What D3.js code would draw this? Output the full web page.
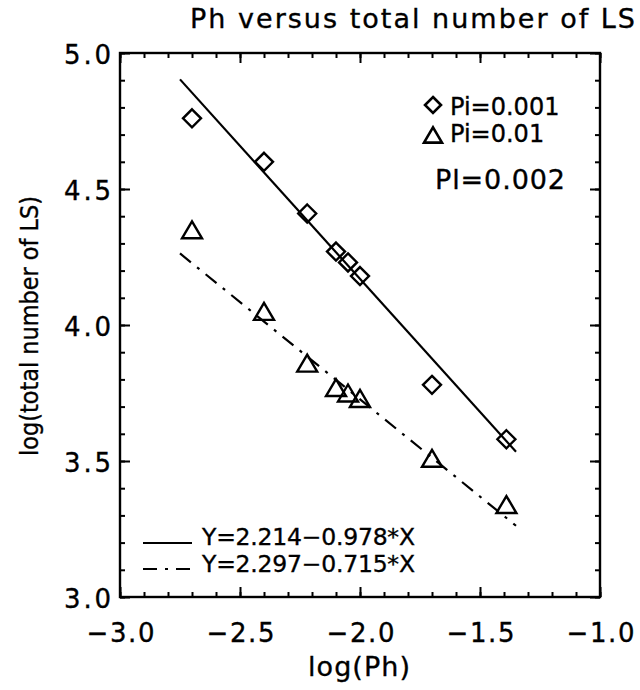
<!DOCTYPE html>
<html>
<head>
<meta charset="utf-8">
<script src="https://cdn.jsdelivr.net/npm/d3@7"></script>
<style>
  html, body { margin: 0; padding: 0; background: #fff; }
  svg { display: block; }
  text { font-family: "DejaVu Sans", sans-serif; fill: #000; stroke: #000; stroke-width: 0.35px; }
</style>
</head>
<body>
<svg id="chart" width="640" height="690"></svg>
<script>
// ---- data ----
const logPh = [-2.70, -2.40, -2.22, -2.10, -2.05, -2.00, -1.70, -1.39];
const lsPi001 = [4.76, 4.60, 4.41, 4.27, 4.23, 4.18, 3.78, 3.58];
const lsPi01  = [4.35, 4.05, 3.86, 3.77, 3.75, 3.73, 3.51, 3.34];
// fit line end points
const fitSolidX = [-2.75, -1.35];
const fitSolidY = [4.903, 3.534];
const fitDashX  = [-2.75, -1.35];
const fitDashY  = [4.263, 3.262];
const xMajor = [-3.0, -2.5, -2.0, -1.5, -1.0];
const yMajor = [3.0, 3.5, 4.0, 4.5, 5.0];
const xMinor = d3.range(-30, -9, 1).map(v => v / 10);
const yMinor = d3.range(30, 51, 1).map(v => v / 10);
const titleText = "Ph versus total number of LS";
const xTitle = "log(Ph)";
const yTitle = "log(total number of LS)";
const legendSymbols = ["Pi=0.001", "Pi=0.01"];
const noteText = "Pl=0.002";
const fitLabels = ["Y=2.214\u22120.978*X", "Y=2.297\u22120.715*X"];

// ---- layout ----
const L = 120, R = 600, T = 53, B = 597;
const svg = d3.select("#chart");
const x = d3.scaleLinear().domain([-3, -1]).range([L, R]);
const y = d3.scaleLinear().domain([3, 5]).range([B, T]);
const fmt = d3.format(".1f");

// title
svg.append("text").attr("x", 190).attr("y", 28)
  .attr("font-size", 27).attr("textLength", 445).attr("lengthAdjust", "spacing")
  .text(titleText);

// axes (ticks inward on all four sides)
function styleAxis(g) {
  g.select(".domain").remove();
  g.selectAll(".tick line").attr("stroke", "#000").attr("stroke-width", 2);
}
// minor ticks
svg.append("g").attr("transform", `translate(0,${B})`)
  .call(d3.axisBottom(x).tickValues(xMinor).tickSize(-5).tickFormat("")).call(styleAxis);
svg.append("g").attr("transform", `translate(0,${T})`)
  .call(d3.axisTop(x).tickValues(xMinor).tickSize(-5).tickFormat("")).call(styleAxis);
svg.append("g").attr("transform", `translate(${L},0)`)
  .call(d3.axisLeft(y).tickValues(yMinor).tickSize(-5).tickFormat("")).call(styleAxis);
svg.append("g").attr("transform", `translate(${R},0)`)
  .call(d3.axisRight(y).tickValues(yMinor).tickSize(-5).tickFormat("")).call(styleAxis);
// major ticks
const gx = svg.append("g").attr("transform", `translate(0,${B})`)
  .call(d3.axisBottom(x).tickValues(xMajor).tickSize(-10).tickPadding(27).tickFormat(fmt))
  .call(styleAxis);
gx.selectAll(".tick text").attr("font-size", 26).attr("font-family", "DejaVu Sans")
  .attr("textLength", 68).attr("lengthAdjust", "spacing");
svg.append("g").attr("transform", `translate(0,${T})`)
  .call(d3.axisTop(x).tickValues(xMajor).tickSize(-10).tickFormat("")).call(styleAxis);
const gy = svg.append("g").attr("transform", `translate(${L},0)`)
  .call(d3.axisLeft(y).tickValues(yMajor).tickSize(-10).tickPadding(9).tickFormat(fmt))
  .call(styleAxis);
gy.selectAll(".tick text").attr("font-size", 26).attr("font-family", "DejaVu Sans")
  .attr("dy", "0.42em")
  .attr("textLength", 47).attr("lengthAdjust", "spacing");
svg.append("g").attr("transform", `translate(${R},0)`)
  .call(d3.axisRight(y).tickValues(yMajor).tickSize(-10).tickFormat("")).call(styleAxis);

// frame
svg.append("rect").attr("x", L).attr("y", T).attr("width", R - L).attr("height", B - T)
  .attr("fill", "none").attr("stroke", "#000").attr("stroke-width", 2.4);

// axis titles
svg.append("text").attr("x", 359).attr("y", 676).attr("text-anchor", "middle")
  .attr("font-size", 27).attr("textLength", 102).attr("lengthAdjust", "spacing")
  .text(xTitle);
svg.append("text").attr("transform", "translate(38,326) rotate(-90)")
  .attr("text-anchor", "middle").attr("font-size", 24)
  .attr("textLength", 260).attr("lengthAdjust", "spacingAndGlyphs")
  .text(yTitle);

// fit lines
const line = d3.line().x(d => x(d[0])).y(d => y(d[1]));
svg.append("path").datum(d3.zip(fitSolidX, fitSolidY)).attr("d", line)
  .attr("fill", "none").attr("stroke", "#000").attr("stroke-width", 2.2);
svg.append("path").datum(d3.zip(fitDashX, fitDashY)).attr("d", line)
  .attr("fill", "none").attr("stroke", "#000").attr("stroke-width", 2.2)
  .attr("stroke-dasharray", "14,8,3,8");

// symbols
const diamond = s => `M0,${-s}L${s},0L0,${s}L${-s},0Z`;
const triangle = s => `M${-s},${s * 0.85}L0,${-s * 0.85}L${s},${s * 0.85}Z`;
svg.append("g").selectAll("path").data(d3.zip(logPh, lsPi001)).join("path")
  .attr("transform", d => `translate(${x(d[0])},${y(d[1])})`)
  .attr("d", diamond(9)).attr("fill", "none").attr("stroke", "#000").attr("stroke-width", 2.4);
svg.append("g").selectAll("path").data(d3.zip(logPh, lsPi01)).join("path")
  .attr("transform", d => `translate(${x(d[0])},${y(d[1])})`)
  .attr("d", triangle(10)).attr("fill", "none").attr("stroke", "#000").attr("stroke-width", 2.4);

// top-right legend
svg.append("path").attr("transform", "translate(433,105)").attr("d", diamond(8))
  .attr("fill", "none").attr("stroke", "#000").attr("stroke-width", 2.6);
svg.append("text").attr("x", 450).attr("y", 115).attr("font-size", 24).text(legendSymbols[0]);
svg.append("path").attr("transform", "translate(433,135)").attr("d", triangle(9))
  .attr("fill", "none").attr("stroke", "#000").attr("stroke-width", 2.6);
svg.append("text").attr("x", 450).attr("y", 142).attr("font-size", 24).text(legendSymbols[1]);
svg.append("text").attr("x", 435).attr("y", 189).attr("font-size", 27)
  .attr("textLength", 130).attr("lengthAdjust", "spacing").text(noteText);

// bottom-left fit legend
svg.append("line").attr("x1", 143).attr("x2", 192).attr("y1", 543).attr("y2", 543)
  .attr("stroke", "#000").attr("stroke-width", 2.2);
svg.append("text").attr("x", 202).attr("y", 545).attr("font-size", 23.5)
  .attr("textLength", 213).attr("lengthAdjust", "spacing").text(fitLabels[0]);
svg.append("line").attr("x1", 143).attr("x2", 192).attr("y1", 569).attr("y2", 569)
  .attr("stroke", "#000").attr("stroke-width", 2.2).attr("stroke-dasharray", "14,8,3,8");
svg.append("text").attr("x", 202).attr("y", 572).attr("font-size", 23.5)
  .attr("textLength", 213).attr("lengthAdjust", "spacing").text(fitLabels[1]);
</script>
</body>
</html>
